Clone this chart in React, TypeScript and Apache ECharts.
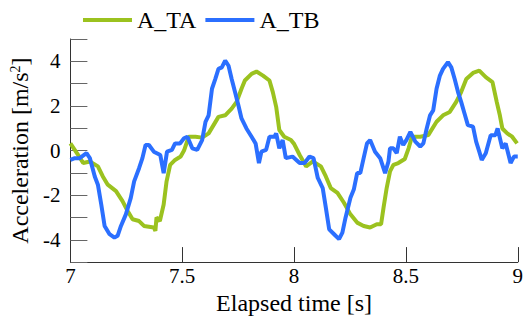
import React, { useEffect, useRef } from "react";
import * as echarts from "echarts";

const seriesNames = ["A_TA", "A_TB"];

const timeA = [7.0, 7.035, 7.057, 7.087, 7.123, 7.145, 7.167, 7.204, 7.233, 7.256, 7.278, 7.307, 7.329, 7.373, 7.38, 7.385, 7.4, 7.417, 7.43, 7.446, 7.468, 7.493, 7.508, 7.529, 7.559, 7.589, 7.618, 7.64, 7.662, 7.692, 7.721, 7.743, 7.765, 7.78, 7.81, 7.832, 7.861, 7.89, 7.905, 7.92, 7.934, 7.956, 7.986, 8.0, 8.025, 8.054, 8.084, 8.12, 8.142, 8.164, 8.194, 8.223, 8.252, 8.282, 8.311, 8.34, 8.37, 8.389, 8.4, 8.414, 8.429, 8.444, 8.466, 8.495, 8.512, 8.527, 8.564, 8.6, 8.637, 8.666, 8.696, 8.725, 8.747, 8.77, 8.8, 8.828, 8.857, 8.887, 8.906, 8.92, 8.931, 8.953, 8.975, 8.997];
const accA = [0.32, -0.2, -0.56, -0.49, -0.71, -1.16, -1.53, -1.82, -2.27, -2.71, -3.08, -3.16, -3.38, -3.45, -3.6, -3.0, -3.16, -2.42, -1.38, -0.64, -0.42, -0.27, 0.0, 0.62, 0.62, 0.58, 0.77, 1.14, 1.51, 1.58, 1.88, 2.18, 2.77, 3.14, 3.44, 3.54, 3.36, 3.14, 2.62, 1.96, 0.92, 0.62, 0.47, 0.3, -0.2, -0.71, -0.49, -0.71, -1.16, -1.68, -1.9, -2.34, -2.86, -3.23, -3.38, -3.45, -3.3, -3.3, -2.56, -1.68, -0.93, -0.64, -0.56, -0.38, 0.1, 0.62, 0.62, 0.69, 1.29, 1.58, 1.73, 2.18, 2.62, 3.21, 3.48, 3.58, 3.29, 3.07, 2.18, 1.58, 0.99, 0.77, 0.62, 0.32];

const timeB = [7.0, 7.02, 7.042, 7.072, 7.087, 7.109, 7.123, 7.138, 7.153, 7.175, 7.197, 7.211, 7.226, 7.248, 7.27, 7.285, 7.307, 7.322, 7.336, 7.351, 7.373, 7.402, 7.417, 7.432, 7.454, 7.468, 7.49, 7.508, 7.523, 7.545, 7.567, 7.589, 7.604, 7.618, 7.633, 7.648, 7.662, 7.677, 7.692, 7.707, 7.721, 7.736, 7.751, 7.765, 7.787, 7.81, 7.828, 7.843, 7.854, 7.875, 7.89, 7.912, 7.92, 7.934, 7.949, 7.963, 7.993, 8.01, 8.025, 8.047, 8.069, 8.087, 8.106, 8.128, 8.142, 8.157, 8.179, 8.201, 8.216, 8.23, 8.252, 8.267, 8.282, 8.296, 8.311, 8.326, 8.34, 8.362, 8.385, 8.407, 8.422, 8.429, 8.444, 8.459, 8.473, 8.488, 8.502, 8.52, 8.542, 8.564, 8.578, 8.593, 8.608, 8.622, 8.637, 8.652, 8.666, 8.688, 8.703, 8.718, 8.733, 8.747, 8.762, 8.777, 8.8, 8.814, 8.828, 8.839, 8.857, 8.879, 8.9, 8.91, 8.931, 8.946, 8.968, 8.983, 9.0];
const accB = [-0.42, -0.34, -0.34, -0.12, -0.34, -1.16, -1.53, -2.42, -3.38, -3.75, -3.9, -3.82, -3.38, -2.86, -2.12, -1.38, -0.79, -0.34, 0.25, 0.25, -0.05, -0.2, -1.01, -0.05, 0.03, 0.32, 0.32, 0.55, 0.62, 0.1, 0.03, 0.47, 1.29, 1.58, 2.77, 3.21, 3.66, 3.73, 4.03, 3.8, 3.21, 2.62, 2.03, 1.44, 0.99, 0.62, 0.32, -0.56, -0.05, 0.03, 0.62, 0.62, 0.77, 0.1, 0.47, -0.34, -0.27, -0.42, -0.56, -0.56, -0.27, -0.34, -1.23, -1.68, -2.56, -3.53, -3.75, -3.97, -3.68, -3.01, -2.12, -1.75, -1.01, -1.01, -0.34, 0.32, 0.47, -0.05, -0.34, -1.01, -0.49, 0.1, 0.1, -0.12, 0.62, 0.25, 0.47, 0.84, 0.4, 0.18, 0.32, 0.99, 1.58, 1.8, 2.77, 3.36, 3.66, 3.96, 3.73, 3.21, 2.62, 2.18, 1.66, 1.14, 1.07, 0.4, -0.05, -0.42, -0.12, 0.69, 0.69, 0.99, 0.1, 0.32, -0.56, -0.27, -0.27];

const xMin = 7;
const xMax = 9;
const xInterval = 0.5;
const yMin = -5;
const yMax = 5;
const yInterval = 1;

const GREEN = "#9bc21f";
const BLUE = "#2b6fff";
const FONT = "Liberation Serif";

const rich = (size: number) => ({
  a: { fontFamily: FONT, fontSize: size, color: "#000" },
  sup: { fontFamily: FONT, fontSize: Math.round(size * 0.6), color: "#000", verticalAlign: "top", lineHeight: size },
});

export default function App() {
  const ref = useRef<HTMLDivElement>(null);
  useEffect(() => {
    if (!ref.current) return;
    document.body.style.margin = "0";
    const chart = echarts.init(ref.current, null, { renderer: "svg" });
    const pairs = (t: number[], v: number[]) => t.map((x, i) => [x, v[i]]);
    chart.setOption({
      animation: false,
      legend: {
        left: 78,
        top: 3,
        itemWidth: 49,
        itemHeight: 4,
        itemGap: 9,
        icon: "rect",
        formatter: (name: string) => `{a|${name}}`,
        textStyle: { fontFamily: FONT, fontSize: 24, rich: rich(24) },
        data: seriesNames,
      },
      grid: { left: 64, right: 8, top: 39, bottom: 55 },
      xAxis: {
        type: "value",
        min: xMin,
        max: xMax,
        interval: xInterval,
        name: "{a|Elapsed time [s]}",
        nameLocation: "middle",
        nameGap: 16,
        nameTextStyle: { fontFamily: FONT, fontSize: 24, rich: rich(24) },
        axisLine: { onZero: false, lineStyle: { color: "#333", width: 1 } },
        axisTick: { inside: true, length: 15, lineStyle: { color: "#333" } },
        axisLabel: {
          fontFamily: FONT,
          fontSize: 21,
          margin: 3,
          showMaxLabel: true,
          showMinLabel: true,
          formatter: (v: number) => `{a|${v}}`,
          rich: rich(21),
        },
        splitLine: { show: false },
      },
      yAxis: {
        type: "value",
        min: yMin,
        max: yMax,
        interval: yInterval,
        name: "{a|Acceleration [m/s}{sup|2}{a|]}",
        nameLocation: "middle",
        nameGap: 32,
        nameTextStyle: { fontFamily: FONT, fontSize: 24, rich: rich(24) },
        axisLine: { show: true, onZero: false, lineStyle: { color: "#333", width: 1 } },
        axisTick: { inside: true, length: 17, lineStyle: { color: "#666" } },
        axisLabel: {
          fontFamily: FONT,
          fontSize: 21,
          margin: 10,
          formatter: (v: number) => (Math.abs(v) % 2 === 0 ? `{a|${v}}` : ""),
          rich: rich(21),
        },
        splitLine: { show: false },
      },
      series: [
        {
          name: seriesNames[0],
          type: "line",
          data: pairs(timeA, accA),
          showSymbol: false,
          symbol: "none",
          color: GREEN,
          lineStyle: { color: GREEN, width: 4 },
          z: 2,
        },
        {
          name: seriesNames[1],
          type: "line",
          data: pairs(timeB, accB),
          showSymbol: false,
          symbol: "none",
          color: BLUE,
          lineStyle: { color: BLUE, width: 4 },
          z: 3,
        },
      ],
    });
    return () => chart.dispose();
  }, []);
  return <div ref={ref} style={{ width: 526, height: 320 }} />;
}
